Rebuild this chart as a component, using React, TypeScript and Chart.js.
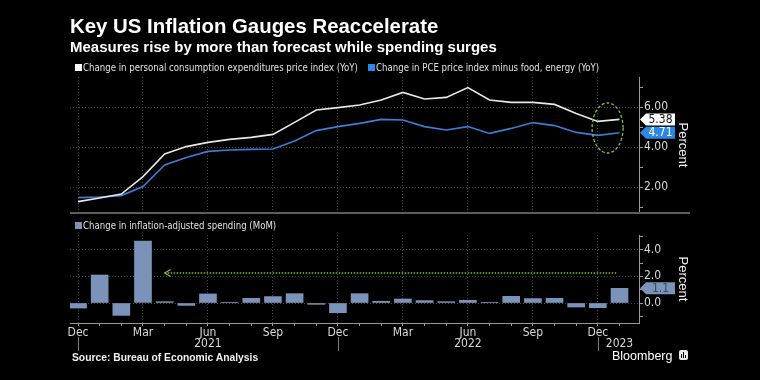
import React, { useEffect, useRef } from 'react';
import { Chart, registerables } from 'chart.js';

Chart.register(...registerables);

// ---------- DATA ----------
const months = [
  '2020-12', '2021-01', '2021-02', '2021-03', '2021-04', '2021-05', '2021-06', '2021-07', '2021-08',
  '2021-09', '2021-10', '2021-11', '2021-12', '2022-01', '2022-02', '2022-03', '2022-04', '2022-05',
  '2022-06', '2022-07', '2022-08', '2022-09', '2022-10', '2022-11', '2022-12', '2023-01',
];
const monthNames = ['Jan', 'Feb', 'Mar', 'Apr', 'May', 'Jun', 'Jul', 'Aug', 'Sep', 'Oct', 'Nov', 'Dec'];
const pceHeadline = [
  1.27, 1.45, 1.65, 2.52, 3.65, 4.02, 4.23, 4.38, 4.48, 4.63, 5.23, 5.85, 5.97,
  6.1, 6.35, 6.73, 6.4, 6.48, 6.97, 6.35, 6.23, 6.23, 6.13, 5.68, 5.28, 5.38,
];
const pceCore = [
  1.47, 1.5, 1.57, 2.02, 3.1, 3.48, 3.78, 3.85, 3.88, 3.9, 4.3, 4.82, 5.02,
  5.18, 5.38, 5.35, 5.02, 4.85, 5.02, 4.68, 4.93, 5.22, 5.07, 4.73, 4.58, 4.71,
];
const spending = [
  -0.38, 2.1, -0.93, 4.65, 0.1, -0.18, 0.68, 0.02, 0.35, 0.48, 0.7, -0.1, -0.73,
  0.7, 0.13, 0.3, 0.18, 0.1, 0.2, 0.02, 0.5, 0.33, 0.35, -0.3, -0.35, 1.1,
];
const topTicks = [1, 2, 3, 4, 5, 6, 7];
const bottomTicks = [-1, 0, 1, 2, 3, 4, 5];
const titleText = 'Key US Inflation Gauges Reaccelerate';
const subtitleText = 'Measures rise by more than forecast while spending surges';
const legendHeadline = 'Change in personal consumption expenditures price index (YoY)';
const legendCore = 'Change in PCE price index minus food, energy (YoY)';
const legendSpending = 'Change in inflation-adjusted spending (MoM)';
const sourceText = 'Source: Bureau of Economic Analysis';
const axisTitle = 'Percent';

// ---------- STYLE ----------
const W = 760;
const H = 380;
const NARROW = '"Liberation Sans Narrow", "DejaVu Sans Condensed", "Liberation Sans", sans-serif';
const SANS = '"Liberation Sans", "DejaVu Sans", sans-serif';
const GRID = '#4a4a4a';
const AXIS = '#9a9a9a';
const TICK = '#d8d8d8';
const WHITE_LINE = '#e8e8e8';
const BLUE_LINE = '#3a7ed6';
const BLUE_TAG = '#2d87e4';
const BAR = '#7b93b9';
const GREEN = '#8db63a';
const X_MIN = -0.37;
const X_MAX = 25.9;

const idx = months.map((_, i) => i);
const monthOf = (i: number) => parseInt(months[i].split('-')[1], 10);
const yearOf = (i: number) => months[i].split('-')[0];
const isQuarter = (v: number) => Number.isInteger(v) && v >= 0 && v < months.length && monthOf(v) % 3 === 0;

function drawTag(ctx: CanvasRenderingContext2D, x0: number, yc: number, text: string, bg: string, fg: string) {
  const h = 12;
  const w = 35;
  ctx.save();
  ctx.fillStyle = bg;
  ctx.beginPath();
  ctx.moveTo(x0, yc);
  ctx.lineTo(x0 + 6, yc - h / 2);
  ctx.lineTo(x0 + w, yc - h / 2);
  ctx.lineTo(x0 + w, yc + h / 2);
  ctx.lineTo(x0 + 6, yc + h / 2);
  ctx.closePath();
  ctx.fill();
  ctx.fillStyle = fg;
  ctx.font = `12px ${NARROW}`;
  ctx.textAlign = 'center';
  ctx.textBaseline = 'middle';
  ctx.fillText(text, x0 + 20.5, yc + 0.5);
  ctx.restore();
}

function drawAxisTitle(chart: any) {
  const ctx = chart.ctx as CanvasRenderingContext2D;
  const { top, bottom } = chart.chartArea;
  ctx.save();
  ctx.translate(683, (top + bottom) / 2);
  ctx.rotate(Math.PI / 2);
  ctx.fillStyle = '#f2f2f2';
  ctx.font = `13px ${SANS}`;
  ctx.textAlign = 'center';
  ctx.textBaseline = 'middle';
  ctx.fillText(axisTitle, 0, 0);
  ctx.restore();
}

const xScaleBase = {
  type: 'linear' as const,
  min: X_MIN,
  max: X_MAX,
  afterBuildTicks: (s: any) => {
    s.ticks = idx.map((v) => ({ value: v }));
  },
};

export default function App() {
  const topRef = useRef<HTMLCanvasElement>(null);
  const botRef = useRef<HTMLCanvasElement>(null);

  useEffect(() => {
    const topPlugin = {
      id: 'topOverlay',
      afterDraw(chart: any) {
        const ctx = chart.ctx as CanvasRenderingContext2D;
        const xs = chart.scales.x;
        const ys = chart.scales.y;
        const cx = xs.getPixelForValue(24.45);
        const cy = ys.getPixelForValue(4.95);
        ctx.save();
        ctx.strokeStyle = GREEN;
        ctx.lineWidth = 1.3;
        ctx.setLineDash([3, 2]);
        ctx.beginPath();
        ctx.ellipse(cx, cy, 15.5, 25, 0, 0, Math.PI * 2);
        ctx.stroke();
        ctx.restore();
        const last = months.length - 1;
        drawTag(ctx, ys.left + 1, ys.getPixelForValue(pceHeadline[last]), pceHeadline[last].toFixed(2), '#ffffff', '#111111');
        drawTag(ctx, ys.left + 1, ys.getPixelForValue(pceCore[last]), pceCore[last].toFixed(2), BLUE_TAG, '#ffffff');
        drawAxisTitle(chart);
      },
    };

    const botPlugin = {
      id: 'botOverlay',
      afterDraw(chart: any) {
        const ctx = chart.ctx as CanvasRenderingContext2D;
        const xs = chart.scales.x;
        const ys = chart.scales.y;
        const last = months.length - 1;
        const ay = ys.getPixelForValue(2.25);
        const ax0 = xs.getPixelForValue(4.0);
        const ax1 = xs.getPixelForValue(24.9);
        ctx.save();
        ctx.strokeStyle = GREEN;
        ctx.lineWidth = 1.4;
        ctx.setLineDash([1.5, 1.5]);
        ctx.beginPath();
        ctx.moveTo(ax0, ay);
        ctx.lineTo(ax1, ay);
        ctx.stroke();
        ctx.setLineDash([]);
        ctx.lineWidth = 1.2;
        ctx.beginPath();
        ctx.moveTo(ax0 + 6, ay - 3.5);
        ctx.lineTo(ax0, ay);
        ctx.lineTo(ax0 + 6, ay + 3.5);
        ctx.stroke();
        ctx.restore();
        drawTag(ctx, ys.left + 1, ys.getPixelForValue(spending[last]), spending[last].toFixed(1), BAR, '#3b4a66');
        drawAxisTitle(chart);
        const bottom = chart.chartArea.bottom;
        ctx.save();
        ctx.strokeStyle = '#7a7a7a';
        ctx.lineWidth = 1;
        idx.forEach((i) => {
          if (monthOf(i) === 12) {
            const px = Math.round(xs.getPixelForValue(i)) + 0.5;
            ctx.beginPath();
            ctx.moveTo(px, bottom + 14);
            ctx.lineTo(px, bottom + 28);
            ctx.stroke();
          }
        });
        ctx.fillStyle = TICK;
        ctx.font = `12px ${NARROW}`;
        ctx.textAlign = 'center';
        ctx.textBaseline = 'middle';
        const years = Array.from(new Set(idx.map(yearOf)));
        years.forEach((yr) => {
          let pos = idx.find((i) => yearOf(i) === yr && monthOf(i) === 6);
          if (pos === undefined) pos = idx.find((i) => yearOf(i) === yr && monthOf(i) === 1);
          if (pos === undefined) return;
          ctx.fillText(yr, xs.getPixelForValue(pos), bottom + 21);
        });
        ctx.restore();
      },
    };

    const top = new Chart(topRef.current as HTMLCanvasElement, {
      type: 'line',
      data: {
        datasets: [
          {
            data: pceHeadline.map((v, i) => ({ x: i, y: v })),
            borderColor: WHITE_LINE,
            borderWidth: 1.6,
            pointRadius: 0,
            tension: 0,
          },
          {
            data: pceCore.map((v, i) => ({ x: i, y: v })),
            borderColor: BLUE_LINE,
            borderWidth: 1.6,
            pointRadius: 0,
            tension: 0,
          },
        ],
      },
      options: {
        responsive: false,
        animation: false,
        devicePixelRatio: 1,
        layout: { padding: { left: 70, top: 77, right: 71, bottom: 167 } },
        plugins: { legend: { display: false }, tooltip: { enabled: false } },
        scales: {
          x: {
            ...xScaleBase,
            grid: {
              color: (c: any) => (isQuarter(c.tick?.value) ? GRID : 'transparent'),
              drawTicks: false,
              lineWidth: 1,
            },
            border: { display: false, dash: [1, 2] },
            ticks: { display: false },
            afterFit: (s: any) => {
              s.height = 0;
            },
          },
          y: {
            position: 'right',
            min: 0.7,
            max: 7.5,
            afterBuildTicks: (s: any) => {
              s.ticks = topTicks.map((v) => ({ value: v }));
            },
            grid: {
              color: (c: any) => (c.tick && c.tick.value % 2 === 0 ? GRID : 'transparent'),
              tickColor: AXIS,
              tickLength: 4,
              lineWidth: 1,
            },
            border: { display: true, color: AXIS, width: 1, dash: [1, 2] },
            ticks: {
              color: TICK,
              font: { family: NARROW, size: 12 },
              padding: 1,
              autoSkip: false,
              callback: (v: any) => (Number(v) % 2 === 0 ? Number(v).toFixed(2) : ''),
            },
            afterFit: (s: any) => {
              s.width = 50;
            },
          },
        },
      } as any,
      plugins: [topPlugin],
    });

    const bot = new Chart(botRef.current as HTMLCanvasElement, {
      type: 'bar',
      data: {
        datasets: [
          {
            data: spending.map((v, i) => ({ x: i, y: v })),
            backgroundColor: BAR,
            borderWidth: 0,
            barThickness: 17,
          },
        ],
      },
      options: {
        responsive: false,
        animation: false,
        devicePixelRatio: 1,
        layout: { padding: { left: 70, top: 235, right: 71, bottom: 37 } },
        plugins: { legend: { display: false }, tooltip: { enabled: false } },
        scales: {
          x: {
            ...xScaleBase,
            offset: false,
            grid: {
              color: (c: any) => (isQuarter(c.tick?.value) ? GRID : 'transparent'),
              tickColor: AXIS,
              tickLength: 3,
              lineWidth: 1,
              offset: false,
            },
            border: { display: true, color: AXIS, width: 1, dash: [1, 2] },
            ticks: {
              color: TICK,
              font: { family: NARROW, size: 12 },
              padding: 0,
              autoSkip: false,
              maxRotation: 0,
              callback: (v: any) => (isQuarter(Number(v)) ? monthNames[monthOf(Number(v)) - 1] : ''),
            },
            afterFit: (s: any) => {
              s.height = 20;
            },
          },
          y: {
            position: 'right',
            min: -1.5,
            max: 5.1,
            afterBuildTicks: (s: any) => {
              s.ticks = bottomTicks.map((v) => ({ value: v }));
            },
            grid: {
              color: (c: any) => (c.tick && c.tick.value % 2 === 0 ? GRID : 'transparent'),
              tickColor: AXIS,
              tickLength: 4,
              lineWidth: 1,
            },
            border: { display: true, color: AXIS, width: 1, dash: [1, 2] },
            ticks: {
              color: TICK,
              font: { family: NARROW, size: 12 },
              padding: 1,
              autoSkip: false,
              callback: (v: any) => (Number(v) % 2 === 0 ? Number(v).toFixed(1) : ''),
            },
            afterFit: (s: any) => {
              s.width = 50;
            },
          },
        },
      } as any,
      plugins: [botPlugin],
    });

    return () => {
      top.destroy();
      bot.destroy();
    };
  }, []);

  const abs = (s: React.CSSProperties): React.CSSProperties => ({ position: 'absolute', whiteSpace: 'nowrap', ...s });
  const legendText = (left: number, top: number): React.CSSProperties =>
    abs({
      left,
      top,
      color: '#e0e0e0',
      font: `10.5px ${NARROW}`,
      lineHeight: '13px',
      transform: 'scaleX(0.91)',
      transformOrigin: 'left center',
    });

  return (
    <div style={{ position: 'fixed', left: 0, top: 0, width: W, height: H, background: '#000', overflow: 'hidden' }}>
      <canvas ref={botRef} width={W} height={H} style={abs({ left: 0, top: 0, width: W, height: H })} />
      <canvas ref={topRef} width={W} height={H} style={abs({ left: 0, top: 0, width: W, height: H })} />
      <div style={abs({ left: 70, top: 212, width: 620, height: 2, background: '#5c5c5c' })} />
      <div style={abs({ left: 70, top: 14, color: '#fff', font: `bold 20.4px ${SANS}`, lineHeight: '24px' })}>{titleText}</div>
      <div style={abs({ left: 70, top: 38, color: '#fff', font: `bold 15px ${SANS}`, lineHeight: '18px' })}>{subtitleText}</div>
      <div style={abs({ left: 75, top: 64, width: 7, height: 7, background: '#fff' })} />
      <div style={legendText(83, 61)}>{legendHeadline}</div>
      <div style={abs({ left: 368, top: 64, width: 7, height: 7, background: BLUE_TAG })} />
      <div style={legendText(376, 61)}>{legendCore}</div>
      <div style={abs({ left: 75, top: 222, width: 7, height: 7, background: BAR })} />
      <div style={legendText(83, 219)}>{legendSpending}</div>
      <div style={abs({ left: 72, top: 351, color: '#f0f0f0', font: `bold 10.3px ${SANS}`, lineHeight: '13px' })}>{sourceText}</div>
      <div style={abs({ left: 612, top: 349, color: '#fff', font: `12.5px ${SANS}`, lineHeight: '15px' })}>Bloomberg</div>
      <div style={abs({ left: 679, top: 350, width: 9, height: 10, background: '#e8e8e8', borderRadius: 2 })}>
        <div style={abs({ left: 2, top: 4, width: 1, height: 4, background: '#000' })} />
        <div style={abs({ left: 4, top: 2, width: 1, height: 6, background: '#000' })} />
        <div style={abs({ left: 6, top: 5, width: 1, height: 3, background: '#000' })} />
      </div>
    </div>
  );
}
